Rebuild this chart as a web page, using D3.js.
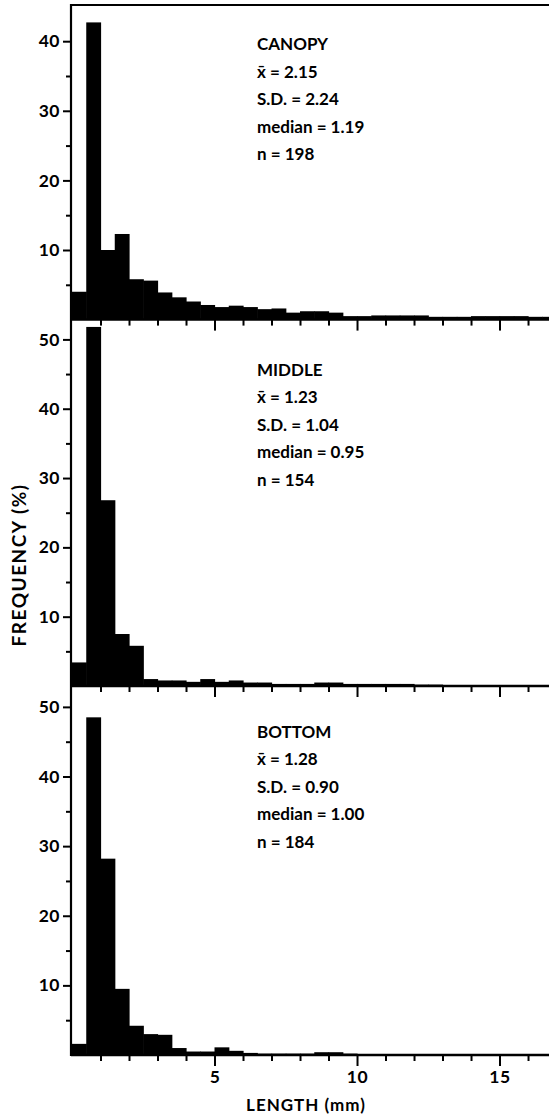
<!DOCTYPE html>
<html>
<head>
<meta charset="utf-8">
<script src="https://cdn.jsdelivr.net/npm/d3@7"></script>
<style>
  html, body { margin: 0; padding: 0; background: #fff; }
  svg { display: block; }
  text { font-family: Lato, "Open Sans", sans-serif; font-weight: 700; fill: #000; }
</style>
</head>
<body>
<svg id="chart" width="549" height="1115"></svg>
<script>
// ---- data ----
const binStarts = [0, 0.5, 1, 1.5, 2, 2.5, 3, 3.5, 4, 4.5, 5, 5.5, 6, 6.5, 7, 7.5, 8, 8.5,
  9, 9.5, 10, 10.5, 11, 11.5, 12, 12.5, 13, 13.5, 14, 14.5, 15, 15.5, 16, 16.5];
const binWidth = 0.5;

const canopy = [4.0, 42.7, 10.0, 12.3, 5.8, 5.6, 3.9, 3.2, 2.6, 2.1, 1.8, 2.0, 1.8, 1.5, 1.6, 1.0, 1.2,
  1.2, 1.0, 0.5, 0.5, 0.6, 0.6, 0.6, 0.6, 0.4, 0.4, 0.4, 0.5, 0.5, 0.5, 0.5, 0.4, 0.4];
const middle = [3.4, 51.8, 26.8, 7.5, 5.8, 1.0, 0.8, 0.8, 0.6, 1.0, 0.6, 0.8, 0.5, 0.5, 0.3, 0.3, 0.3,
  0.5, 0.5, 0.3, 0.3, 0.3, 0.3, 0.3, 0.2, 0.2, 0.1, 0.1, 0.1, 0.1, 0.1, 0.1, 0.1, 0.1];
const bottom = [1.6, 48.5, 28.2, 9.5, 4.2, 3.0, 2.9, 1.0, 0.5, 0.5, 1.1, 0.6, 0.3, 0.2, 0.2, 0.2, 0.2,
  0.4, 0.4, 0.2, 0.1, 0.1, 0.1, 0.1, 0.1, 0.1, 0.1, 0.1, 0.1, 0.1, 0.1, 0.1, 0.1, 0.1];

const panelNames = ["CANOPY", "MIDDLE", "BOTTOM"];
const statLines = [
  ["x\u0304 = 2.15", "S.D. = 2.24", "median = 1.19", "n = 198"],
  ["x\u0304 = 1.23", "S.D. = 1.04", "median = 0.95", "n = 154"],
  ["x\u0304 = 1.28", "S.D. = 0.90", "median = 1.00", "n = 184"]
];
const yMajorTicks = [[10, 20, 30, 40], [10, 20, 30, 40, 50], [10, 20, 30, 40, 50]];
const yMinorTicks = [[5, 15, 25, 35], [5, 15, 25, 35, 45], [5, 15, 25, 35, 45]];
const xMajorTicks = [5, 10, 15];
const xMinorTicks = [1, 2, 3, 4, 6, 7, 8, 9, 11, 12, 13, 14, 16];
const xLabel = "LENGTH (mm)";
const yLabel = "FREQUENCY (%)";

// ---- layout ----
const svg = d3.select("#chart");
const axisX = 71;
const x = d3.scaleLinear().domain([0, 16.75]).range([72, 549.4]);
const panels = [
  { data: canopy, top: 5,   base: 319.6, ymax: 45.2 },
  { data: middle, top: 320, base: 686,   ymax: 52.8 },
  { data: bottom, top: 686, base: 1055,  ymax: 53.0 }
];

panels.forEach((p, i) => {
  const y = d3.scaleLinear().domain([0, p.ymax]).range([p.base, p.top]);
  const g = svg.append("g");

  // bars
  g.selectAll("rect.bar")
    .data(binStarts.map((b, k) => ({ b, v: p.data[k] })))
    .join("rect")
    .attr("class", "bar")
    .attr("x", d => x(d.b))
    .attr("width", d => x(d.b + binWidth) - x(d.b) + 0.6)
    .attr("y", d => y(d.v))
    .attr("height", d => y(0) - y(d.v))
    .attr("fill", "#000");

  // y axis ticks
  const yMaj = d3.axisLeft(y).tickValues(yMajorTicks[i]).tickSize(8).tickPadding(3).tickFormat(d3.format("d"));
  const gy = g.append("g").attr("transform", `translate(${axisX},0)`).call(yMaj);
  gy.select(".domain").remove();
  gy.selectAll("line").attr("stroke", "#000").attr("stroke-width", 2);
  gy.selectAll("text").attr("font-size", 17.5).attr("letter-spacing", 0.5)
    .attr("font-family", "Lato, sans-serif").attr("font-weight", 700);

  const yMin = d3.axisLeft(y).tickValues(yMinorTicks[i]).tickSize(5).tickFormat("");
  const gy2 = g.append("g").attr("transform", `translate(${axisX},0)`).call(yMin);
  gy2.select(".domain").remove();
  gy2.selectAll("line").attr("stroke", "#000").attr("stroke-width", 2);

  // x axis baseline + ticks
  const xMaj = d3.axisBottom(x).tickValues(xMajorTicks).tickSize(11).tickPadding(5)
    .tickFormat(i === 2 ? d3.format("d") : "");
  const gx = g.append("g").attr("transform", `translate(0,${p.base})`).call(xMaj);
  gx.select(".domain").remove();
  gx.selectAll("line").attr("stroke", "#000").attr("stroke-width", 2);
  gx.selectAll("text").attr("font-size", 17.5).attr("letter-spacing", 0.5)
    .attr("font-family", "Lato, sans-serif").attr("font-weight", 700);

  const xMin = d3.axisBottom(x).tickValues(xMinorTicks).tickSize(6).tickFormat("");
  const gx2 = g.append("g").attr("transform", `translate(0,${p.base})`).call(xMin);
  gx2.select(".domain").remove();
  gx2.selectAll("line").attr("stroke", "#000").attr("stroke-width", 2);

  g.append("line")
    .attr("x1", axisX).attr("x2", 549)
    .attr("y1", p.base).attr("y2", p.base)
    .attr("stroke", "#000").attr("stroke-width", 2.5);

  // annotation
  const ann = g.append("g");
  const firstBase = [50, 375.5, 737.5][i];
  [panelNames[i]].concat(statLines[i]).forEach((t, k) => {
    ann.append("text")
      .attr("x", 257)
      .attr("y", firstBase + k * 27.6)
      .attr("font-size", 17)
      .text(t);
  });
});

// left axis line & top border
svg.append("line").attr("x1", axisX).attr("x2", axisX).attr("y1", 4).attr("y2", 1056)
  .attr("stroke", "#000").attr("stroke-width", 2.2);
svg.append("line").attr("x1", axisX - 1).attr("x2", 549).attr("y1", 5).attr("y2", 5)
  .attr("stroke", "#000").attr("stroke-width", 2);

// axis titles
svg.append("text")
  .attr("x", 306).attr("y", 1111)
  .attr("text-anchor", "middle")
  .attr("font-size", 17)
  .attr("letter-spacing", 1)
  .text(xLabel);

svg.append("text")
  .attr("transform", "translate(26,565) rotate(-90)")
  .attr("text-anchor", "middle")
  .attr("font-size", 19)
  .attr("letter-spacing", 1.5)
  .text(yLabel);
</script>
</body>
</html>
